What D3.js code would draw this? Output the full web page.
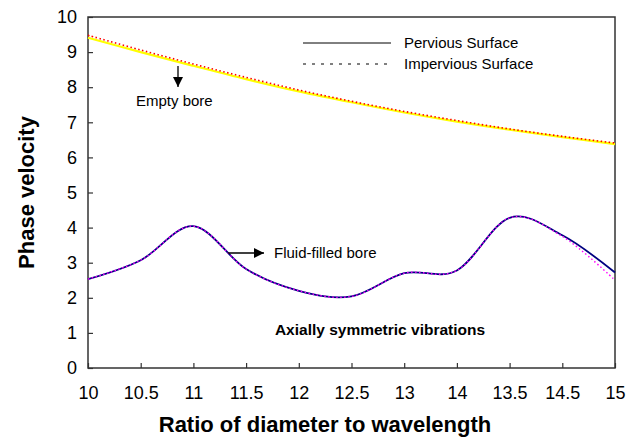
<!DOCTYPE html>
<html>
<head>
<meta charset="utf-8">
<script src="https://cdn.jsdelivr.net/npm/d3@7"></script>
<style>
  html, body { margin: 0; padding: 0; background: #fff; }
  svg { display: block; font-family: Arial, "Liberation Sans", sans-serif; }
</style>
</head>
<body>
<svg id="chart" width="629" height="439"></svg>
<script>
// Category labels along the x axis (as printed, in order)
const categories = ["10", "10.5", "11", "11.5", "12", "12.5", "13", "14", "13.5", "14.5", "15"];
const yTicks = [0, 1, 2, 3, 4, 5, 6, 7, 8, 9, 10];

// Empty bore
const emptyPervious   = [9.41, 9.00, 8.61, 8.23, 7.88, 7.57, 7.28, 7.02, 6.79, 6.58, 6.38];
const emptyImpervious = [9.48, 9.06, 8.66, 8.28, 7.92, 7.60, 7.31, 7.05, 6.81, 6.60, 6.41];
// Fluid-filled bore
const fluidPervious   = [2.53, 3.07, 4.04, 2.82, 2.20, 2.04, 2.70, 2.78, 4.28, 3.78, 2.72];
const fluidImpervious = [2.53, 3.07, 4.04, 2.82, 2.20, 2.04, 2.70, 2.78, 4.28, 3.75, 2.50];

const svg = d3.select("#chart");
const plotLeft = 88, plotRight = 615, plotTop = 17, plotBottom = 368;

const x = d3.scalePoint().domain(categories).range([plotLeft, plotRight]);
const y = d3.scaleLinear().domain([0, 10]).range([plotBottom, plotTop]);

// arrow head marker
svg.append("defs").append("marker")
  .attr("id", "head")
  .attr("viewBox", "0 0 10 10")
  .attr("refX", 10).attr("refY", 5)
  .attr("markerWidth", 10).attr("markerHeight", 10)
  .attr("markerUnits", "userSpaceOnUse")
  .attr("orient", "auto")
  .append("path").attr("d", "M0,0 L10,5 L0,10 Z").attr("fill", "#000");

// axes with inward ticks
svg.append("g")
  .attr("transform", `translate(0,${plotBottom})`)
  .call(d3.axisBottom(x).tickSizeInner(-5).tickSizeOuter(0).tickPadding(18))
  .call(g => g.select(".domain").remove())
  .call(g => g.selectAll("line").attr("stroke", "#333").attr("stroke-width", 1.2))
  .call(g => g.selectAll("text").attr("font-size", 18).attr("fill", "#000")
              .attr("font-family", "Arial, 'Liberation Sans', sans-serif"));

svg.append("g")
  .attr("transform", `translate(${plotLeft},0)`)
  .call(d3.axisLeft(y).tickValues(yTicks).tickFormat(d3.format("d"))
          .tickSizeInner(-5).tickSizeOuter(0).tickPadding(11))
  .call(g => g.select(".domain").remove())
  .call(g => g.selectAll("line").attr("stroke", "#333").attr("stroke-width", 1.2))
  .call(g => g.selectAll("text").attr("font-size", 18).attr("fill", "#000")
              .attr("font-family", "Arial, 'Liberation Sans', sans-serif"));

// plot frame
svg.append("rect")
  .attr("x", plotLeft).attr("y", plotTop)
  .attr("width", plotRight - plotLeft).attr("height", plotBottom - plotTop)
  .attr("fill", "none").attr("stroke", "#333").attr("stroke-width", 1.5);

const line = d3.line()
  .x((d, i) => x(categories[i]))
  .y(d => y(d))
  .curve(d3.curveCardinal.tension(0));

function draw(values, color, width, dash) {
  svg.append("path")
    .datum(values)
    .attr("d", line)
    .attr("fill", "none")
    .attr("stroke", color)
    .attr("stroke-width", width)
    .attr("stroke-dasharray", dash || null);
}

draw(emptyPervious, "#ffff00", 2.2);
draw(emptyImpervious, "#ff0000", 1.6, "1.5,2.5");
draw(fluidPervious, "#000080", 1.8);
draw(fluidImpervious, "#ff00ff", 1.4, "1.5,2.5");

// legend
const lg = svg.append("g").attr("font-size", 15);
lg.append("line").attr("x1", 303).attr("x2", 391).attr("y1", 43).attr("y2", 43)
  .attr("stroke", "#000").attr("stroke-width", 1);
lg.append("text").attr("x", 404).attr("y", 48).text("Pervious Surface");
lg.append("line").attr("x1", 303).attr("x2", 391).attr("y1", 64).attr("y2", 64)
  .attr("stroke", "#000").attr("stroke-width", 1).attr("stroke-dasharray", "3,6");
lg.append("text").attr("x", 404).attr("y", 69).text("Impervious Surface");

// annotations
svg.append("line").attr("x1", 178).attr("y1", 66).attr("x2", 178).attr("y2", 87)
  .attr("stroke", "#000").attr("stroke-width", 1.3).attr("marker-end", "url(#head)");
svg.append("text").attr("x", 136).attr("y", 106).attr("font-size", 15).text("Empty bore");

svg.append("line").attr("x1", 228).attr("y1", 253).attr("x2", 264).attr("y2", 253)
  .attr("stroke", "#000").attr("stroke-width", 1.3).attr("marker-end", "url(#head)");
svg.append("text").attr("x", 274).attr("y", 258).attr("font-size", 15).text("Fluid-filled bore");

svg.append("text").attr("x", 380).attr("y", 335).attr("text-anchor", "middle")
  .attr("font-size", 15.5).attr("font-weight", "bold").text("Axially symmetric vibrations");

// axis titles
svg.append("text").attr("x", 325).attr("y", 432).attr("text-anchor", "middle")
  .attr("font-size", 22).attr("font-weight", "bold").text("Ratio of diameter to wavelength");
svg.append("text").attr("transform", `translate(34,${(plotTop + plotBottom) / 2}) rotate(-90)`)
  .attr("text-anchor", "middle").attr("font-size", 22).attr("font-weight", "bold")
  .text("Phase velocity");
</script>
</body>
</html>
